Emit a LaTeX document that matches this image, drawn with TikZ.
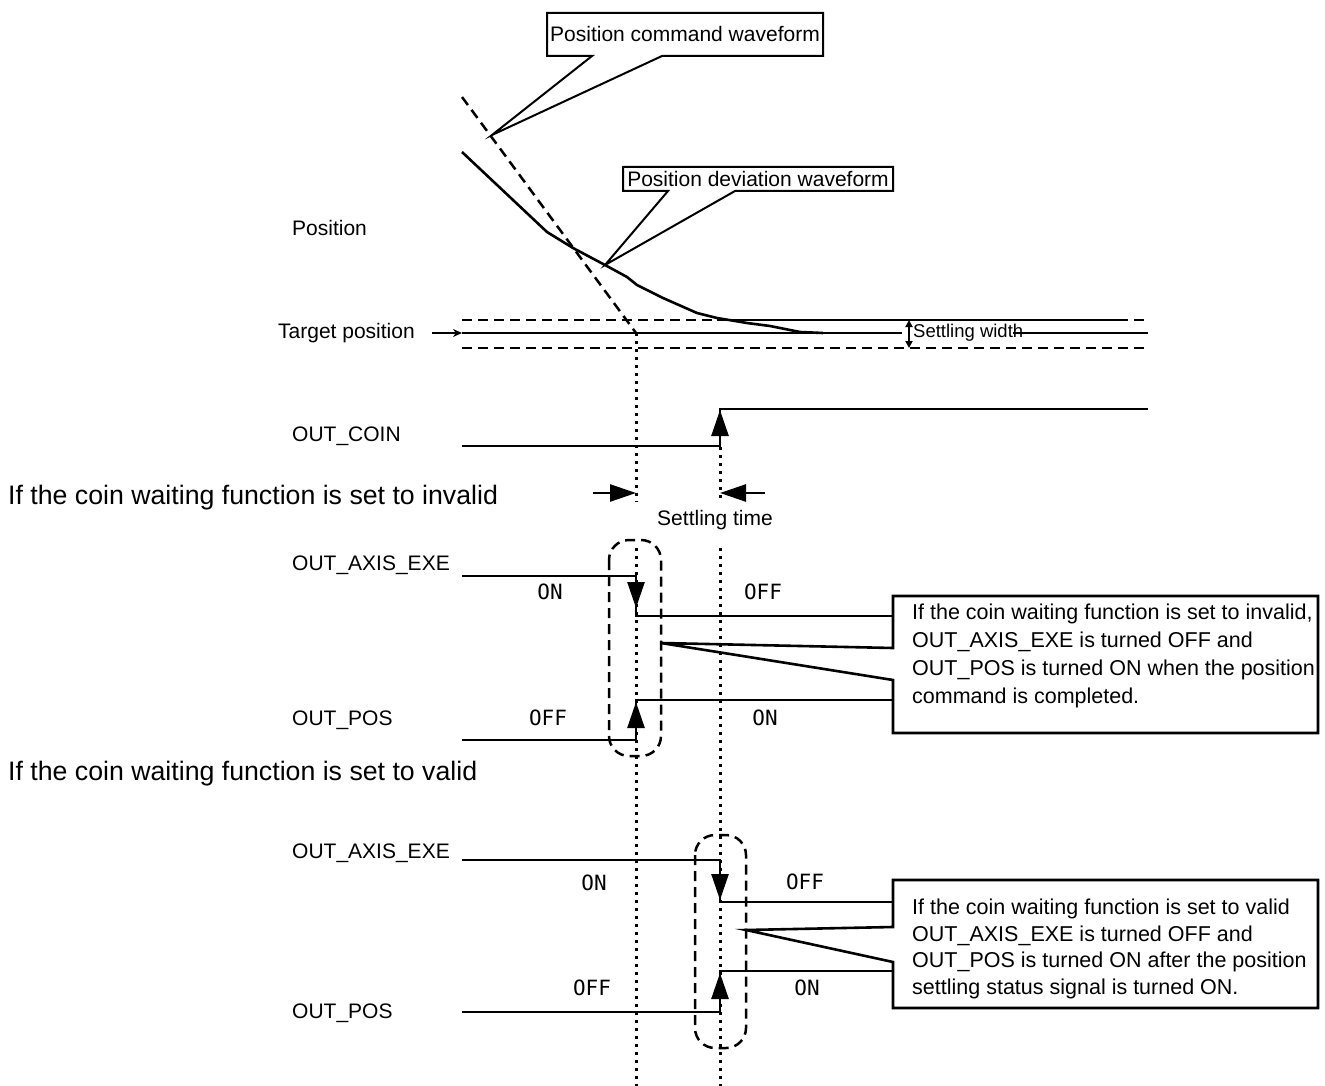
\documentclass[tikz,border=0pt]{standalone}
\usepackage{fontspec}
\setmainfont{Liberation Sans}
\newfontfamily\onofffont{DejaVu Sans Mono}
\usetikzlibrary{arrows.meta}

\begin{document}
\begin{tikzpicture}[x=1pt,y=-1pt,>={Triangle[length=26pt,width=17pt]},
  font=\fontsize{21}{28}\selectfont,
  sig/.style={line width=2.6pt},
  thin box/.style={line width=2pt},
  dotline/.style={line width=3pt,dash pattern=on 3pt off 5pt},
  dashline/.style={line width=2.5pt,dash pattern=on 10pt off 6pt},
  lbl/.style={anchor=west,inner sep=0pt},
  state/.style={font=\onofffont\fontsize{21}{25}\selectfont,inner sep=0pt},
  note/.style={anchor=north west,align=left,inner sep=0pt}]
\useasboundingbox (0,0) rectangle (1325,1086);
\node[lbl] (pos) at (292,228) {Position};
\node[lbl] (tgt) at (278,333) {Target position};
\node[lbl] (coin) at (292,436) {OUT\_COIN};
\node[lbl,font=\fontsize{26.7}{30}\selectfont] (invh) at (8,498) {If the coin waiting function is set to invalid};
\node[lbl] (exe1) at (292,565) {OUT\_AXIS\_EXE};
\node[lbl] (pos1) at (292,720) {OUT\_POS};
\node[lbl,font=\fontsize{26.7}{30}\selectfont] (valh) at (8,774) {If the coin waiting function is set to valid};
\node[lbl] (exe2) at (292,853) {OUT\_AXIS\_EXE};
\node[lbl] (pos2) at (292,1013) {OUT\_POS};
\draw[dashline] (462,320) -- (1148,320);
\draw[dashline] (462,348) -- (1148,348);
\draw[sig] (462,333) -- (1148,333);
\draw[sig] (717,320) -- (1127,320);
\draw[dashline] (462,97) -- (636,333);
\draw[sig,line join=round] (462,152) -- (547,232) -- (573,248) -- (605,265) -- (627,277) -- (637,285) -- (663,298) -- (697,313) -- (717,318) -- (747,323) -- (770,326) -- (800,332) -- (823,333);
\coordinate (tgtline) at (462,333);
\draw[-{Stealth[length=9pt,width=8pt]},line width=2pt] ([xshift=17pt]tgt.east) -- (tgtline);
\fill[white] (902,322) rectangle (1013,346);
\draw[{Triangle[length=7pt,width=7pt]}-{Triangle[length=7pt,width=7pt]},line width=2pt] (909,320) -- (909,348);
\node[lbl,font=\fontsize{18.5}{22}\selectfont] (setw) at (913,333) {Settling width};
\node[inner sep=1pt] (cmdw) at (685,34) {Position command waveform};
\draw[thin box,line join=miter] (592,56) -- (492,135) -- (662,56) -- (823,56) -- (823,13) -- (547,13) -- (547,56) -- cycle;
\node[inner sep=1pt] (devw) at (758,179) {Position deviation waveform};
\draw[thin box,line join=miter] (668,191) -- (605,265) -- (735,191) -- (893,191) -- (893,167) -- (623,167) -- (623,191) -- cycle;
\draw[dotline] (636,333) -- (636,502) (636,548) -- (636,1086);
\draw[dotline] (720,447) -- (720,502) (720,548) -- (720,1086);
\node (settle) at (715,520) {Settling time};
\draw[sig,->] (593,493) -- (636,493);
\draw[sig,->] (765,493) -- (720,493);
\draw[sig] (462,446) -- (720,446) -- (720,409) -- (1148,409);
\draw[sig,->] (720,446) -- (720,410);
\draw[sig] (462,576) -- (636,576) -- (636,616) -- (893,616);
\draw[sig,->] (636,576) -- (636,608);
\draw[sig] (462,740) -- (636,740) -- (636,700) -- (893,700);
\draw[sig,->] (636,740) -- (636,702);
\draw[sig] (462,860) -- (720,860) -- (720,902) -- (893,902);
\draw[sig,->] (720,860) -- (720,900);
\draw[sig] (462,1012) -- (720,1012) -- (720,971) -- (893,971);
\draw[sig,->] (720,1012) -- (720,973);
\node[state] (on1) at (550,592) {ON};
\node[state] (off1) at (763,592) {OFF};
\node[state] (off2) at (548,718) {OFF};
\node[state] (on2) at (765,718) {ON};
\node[state] (on3) at (594,883) {ON};
\node[state] (off3) at (805,882) {OFF};
\node[state] (off4) at (592,988) {OFF};
\node[state] (on4) at (807,988) {ON};
\draw[dashline,rounded corners=20pt] (609,540) rectangle (661,756);
\draw[dashline,rounded corners=20pt] (695,835) rectangle (746,1048);
\draw[sig,line join=miter] (893,648) -- (893,596) -- (1318,596) -- (1318,733) -- (893,733) -- (893,680) -- (661,643) -- cycle;
\node[note,font=\fontsize{21.5}{28}\selectfont] (note1) at (912,604) {If the coin waiting function is set to invalid,\\OUT\_AXIS\_EXE is turned OFF and\\OUT\_POS is turned ON when the position\\command is completed.};
\draw[sig,line join=miter] (893,927) -- (893,880) -- (1318,880) -- (1318,1008) -- (893,1008) -- (893,962) -- (746,930) -- cycle;
\node[note,font=\fontsize{21.5}{26.5}\selectfont] (note2) at (912,899) {If the coin waiting function is set to valid\\OUT\_AXIS\_EXE is turned OFF and\\OUT\_POS is turned ON after the position\\settling status signal is turned ON.};
\end{tikzpicture}
\end{document}
